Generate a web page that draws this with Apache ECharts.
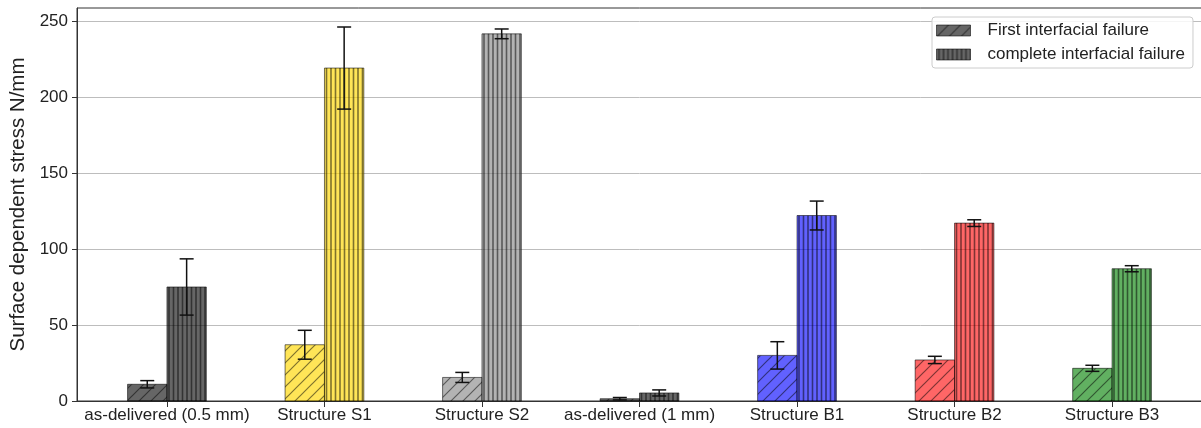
<!DOCTYPE html>
<html>
<head>
<meta charset="utf-8">
<script src="https://cdn.jsdelivr.net/npm/echarts@6/dist/echarts.min.js"></script>
<style>
  html, body { margin: 0; padding: 0; background: #ffffff; }
  #chart { width: 1201px; height: 428px; }
</style>
</head>
<body>
<div id="chart"></div>
<script>
// Specimen groups along the x axis
const categories = [
  'as-delivered (0.5 mm)', 'Structure S1', 'Structure S2',
  'as-delivered (1 mm)', 'Structure B1', 'Structure B2', 'Structure B3'
];
// Stress at first interfacial failure (N/mm) and its standard deviation
const firstFailure = [11, 37, 15.5, 1.5, 30, 27, 21.5];
const firstError   = [2.4, 9.5, 3.3, 0.8, 9, 2.4, 2];
// Stress at complete interfacial failure (N/mm) and its standard deviation
const completeFailure = [75, 219, 241.5, 5.3, 122, 117, 87];
const completeError   = [18.5, 27, 3.2, 2, 9.5, 2.2, 2];
// Y axis tick values
const yTicks = [0, 50, 100, 150, 200, 250];
// Fill colour of each specimen group
const groupColors = [
  'rgba(0,0,0,0.6)', 'rgba(255,215,0,0.66)', 'rgba(128,128,128,0.6)',
  'rgba(0,0,0,0.6)', 'rgba(0,0,255,0.62)', 'rgba(255,0,0,0.6)', 'rgba(0,128,0,0.62)'
];

const FONT = '"Liberation Sans", Arial, sans-serif';
const HATCH_COLOR = 'rgba(0,0,0,0.5)';

// Diagonal "/" hatch tile
function diagonalTile(base) {
  const s = 12;
  const c = document.createElement('canvas');
  c.width = s; c.height = s;
  const g = c.getContext('2d');
  g.fillStyle = base; g.fillRect(0, 0, s, s);
  g.strokeStyle = HATCH_COLOR; g.lineWidth = 1.2;
  g.beginPath();
  for (let k = -1; k <= 1; k++) {
    g.moveTo(k * s - 1, s + 1);
    g.lineTo(k * s + s + 1, -1);
  }
  g.stroke();
  return { image: c, repeat: 'repeat' };
}

// Vertical "|" stripe tile
function verticalTile(base) {
  const w = 9, h = 4;
  const c = document.createElement('canvas');
  c.width = w; c.height = h;
  const g = c.getContext('2d');
  g.fillStyle = base; g.fillRect(0, 0, w, h);
  g.strokeStyle = HATCH_COLOR; g.lineWidth = 1.6;
  g.beginPath();
  g.moveTo(2.5, 0); g.lineTo(2.5, h);
  g.moveTo(7, 0); g.lineTo(7, h);
  g.stroke();
  return { image: c, repeat: 'repeat' };
}

const diagPatterns = groupColors.map(diagonalTile);
const vertPatterns = groupColors.map(verticalTile);

const BAR_W = 0.25;   // bar width in category units
const CAP = 7;        // half width of the error-bar caps in px

function barRenderer(offset, patterns) {
  return function (params, api) {
    const i = api.value(0), v = api.value(1), e = api.value(2);
    const tl = api.coord([i + offset - BAR_W / 2, v]);
    const br = api.coord([i + offset + BAR_W / 2, 0]);
    const cx = api.coord([i + offset, 0])[0];
    const yTop = api.coord([0, v + e])[1];
    const yBot = api.coord([0, Math.max(v - e, 0)])[1];
    const errStyle = { stroke: '#111', lineWidth: 1.5 };
    return {
      type: 'group',
      children: [
        {
          type: 'rect',
          shape: { x: tl[0], y: tl[1], width: br[0] - tl[0], height: br[1] - tl[1] },
          style: { fill: patterns[i], stroke: 'rgba(0,0,0,0.55)', lineWidth: 1 }
        },
        { type: 'line', shape: { x1: cx, y1: yTop, x2: cx, y2: yBot }, style: errStyle, z2: 10 },
        { type: 'line', shape: { x1: cx - CAP, y1: yTop, x2: cx + CAP, y2: yTop }, style: errStyle, z2: 10 },
        { type: 'line', shape: { x1: cx - CAP, y1: yBot, x2: cx + CAP, y2: yBot }, style: errStyle, z2: 10 }
      ]
    };
  };
}

const firstData = categories.map((_, i) => [i, firstFailure[i], firstError[i]]);
const completeData = categories.map((_, i) => [i, completeFailure[i], completeError[i]]);
const catIndex = categories.map((_, i) => i);

const legendDiag = diagonalTile('rgba(0,0,0,0.6)');
const legendVert = verticalTile('rgba(0,0,0,0.6)');

const chart = echarts.init(document.getElementById('chart'), null, { renderer: 'canvas' });
chart.setOption({
  animation: false,
  backgroundColor: '#ffffff',
  grid: {
    left: 77, top: 8, width: 1125, height: 393,
    outerBoundsMode: 'none', containLabel: false,
    show: true, borderColor: '#333', borderWidth: 1, backgroundColor: 'transparent'
  },
  legend: {
    left: 932, top: 17,
    orient: 'vertical',
    itemWidth: 34, itemHeight: 11, itemGap: 7,
    padding: [5, 8, 5, 4],
    borderColor: '#cccccc', borderWidth: 1, borderRadius: 3,
    backgroundColor: 'rgba(255,255,255,0.85)',
    icon: 'rect',
    textStyle: { fontFamily: FONT, fontSize: 17, color: '#222', padding: [0, 0, 0, 12] },
    data: [
      { name: 'First interfacial failure', itemStyle: { color: legendDiag, borderColor: 'rgba(0,0,0,0.55)', borderWidth: 1 } },
      { name: 'complete interfacial failure', itemStyle: { color: legendVert, borderColor: 'rgba(0,0,0,0.55)', borderWidth: 1 } }
    ]
  },
  xAxis: {
    type: 'value',
    min: -0.571, max: 6.571,
    splitLine: { show: false },
    axisLine: { show: true, onZero: false, lineStyle: { color: '#333', width: 1 } },
    axisTick: { show: true, length: 6, customValues: catIndex, lineStyle: { color: '#333' } },
    axisLabel: {
      customValues: catIndex,
      formatter: v => categories[Math.round(v)],
      fontFamily: FONT, fontSize: 17, color: '#222', margin: 6
    }
  },
  yAxis: {
    type: 'value',
    min: 0, max: 258.5, interval: 50,
    name: 'Surface dependent stress N/mm',
    nameLocation: 'middle', nameRotate: 90, nameGap: 47,
    nameTextStyle: { fontFamily: FONT, fontSize: 20.5, color: '#222' },
    axisLine: { show: true, onZero: false, lineStyle: { color: '#333', width: 1 } },
    axisTick: { show: true, length: 5, customValues: yTicks, lineStyle: { color: '#333' } },
    axisLabel: { customValues: yTicks, fontFamily: FONT, fontSize: 17, color: '#222', margin: 9 },
    splitLine: { show: true, lineStyle: { color: '#bdbdbd', width: 1 } }
  },
  series: [
    {
      name: 'First interfacial failure',
      type: 'custom',
      renderItem: barRenderer(-0.125, diagPatterns),
      encode: { x: 0, y: 1 },
      itemStyle: { color: legendDiag },
      data: firstData,
      z: 3
    },
    {
      name: 'complete interfacial failure',
      type: 'custom',
      renderItem: barRenderer(0.125, vertPatterns),
      encode: { x: 0, y: 1 },
      itemStyle: { color: legendVert },
      data: completeData,
      z: 3
    }
  ]
});
</script>
</body>
</html>
